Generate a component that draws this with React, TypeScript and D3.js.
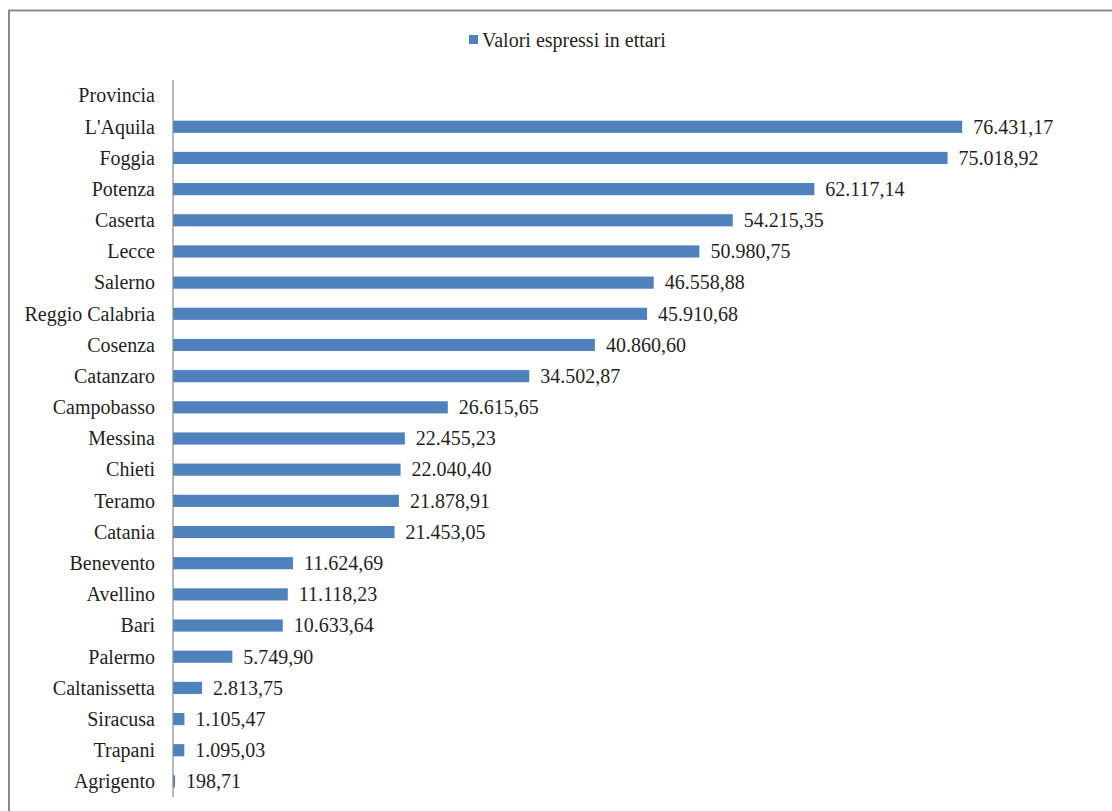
import React from "react";
import * as d3 from "d3";

const categories = [
  "Provincia", "L'Aquila", "Foggia", "Potenza", "Caserta", "Lecce", "Salerno",
  "Reggio Calabria", "Cosenza", "Catanzaro", "Campobasso", "Messina", "Chieti",
  "Teramo", "Catania", "Benevento", "Avellino", "Bari", "Palermo",
  "Caltanissetta", "Siracusa", "Trapani", "Agrigento",
];
const values: (number | null)[] = [
  null, 76431.17, 75018.92, 62117.14, 54215.35, 50980.75, 46558.88,
  45910.68, 40860.6, 34502.87, 26615.65, 22455.23, 22040.4,
  21878.91, 21453.05, 11624.69, 11118.23, 10633.64, 5749.9,
  2813.75, 1105.47, 1095.03, 198.71,
];
const seriesName = "Valori espressi in ettari";

const W = 1112;
const H = 811;
const FONT = "'Liberation Serif', 'Times New Roman', serif";
const BAR = "#4F81BD";
const TEXT = "#1f1f1f";

const itLocale = d3.formatLocale({
  decimal: ",",
  thousands: ".",
  grouping: [3],
  currency: ["€", ""],
});
const fmt = itLocale.format(",.2f");

export default function App() {
  const x = d3.scaleLinear().domain([0, 80000]).range([173, 999]);
  const y = d3
    .scaleBand<string>()
    .domain(categories)
    .range([80, 797])
    .paddingInner(0.61)
    .paddingOuter(0.305);
  const bw = y.bandwidth();
  const x0 = x(0);

  return (
    <svg
      width={W}
      height={H}
      style={{ position: "absolute", left: 0, top: 0, background: "#fff" }}
      fontFamily={FONT}
    >
      <rect x={0} y={0} width={W} height={H} fill="#fff" />
      {/* chart border */}
      <path d={`M9,${H + 5} L9,10.5 L${W + 5},10.5`} fill="none" stroke="#8a8a8a" strokeWidth={2} />

      {/* legend */}
      <rect x={469} y={35} width={9} height={9} fill={BAR} />
      <text x={482} y={47} fontSize={20} fill={TEXT}>
        {seriesName}
      </text>

      {/* bars */}
      {categories.map((c, i) => {
        const v = values[i];
        if (v == null) return null;
        const yy = y(c)!;
        return (
          <g key={c}>
            <rect x={x0} y={yy} width={Math.max(1, x(v) - x0)} height={bw} fill={BAR} />
            <text
              x={x(v) + 11}
              y={yy + bw / 2}
              dy="0.34em"
              fontSize={20}
              fill={TEXT}
            >
              {fmt(v)}
            </text>
          </g>
        );
      })}

      {/* axis line */}
      <line x1={x0} x2={x0} y1={80} y2={797} stroke="#8a8a8a" strokeWidth={1.2} />

      {/* category labels */}
      {categories.map((c) => (
        <text
          key={c}
          x={x0 - 18}
          y={y(c)! + bw / 2}
          dy="0.34em"
          textAnchor="end"
          fontSize={20}
          fill={TEXT}
        >
          {c}
        </text>
      ))}
    </svg>
  );
}
